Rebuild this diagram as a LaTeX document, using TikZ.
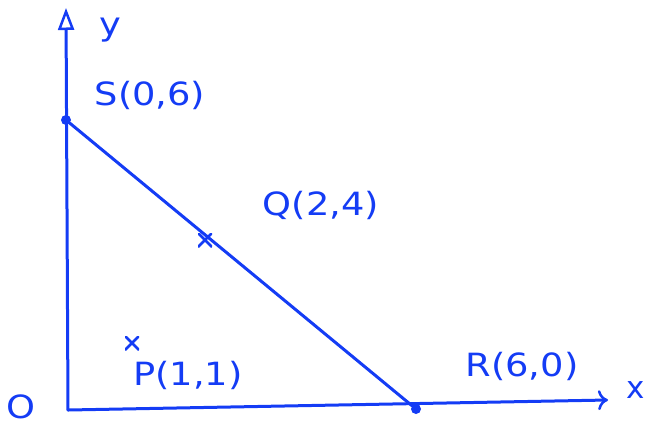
\documentclass[tikz,border=0pt]{standalone}
\usepackage{fontspec}
\setmainfont{DejaVu Sans}
\usetikzlibrary{arrows.meta}
\definecolor{ink}{RGB}{20,60,245}
\newcommand\handtxt[1]{\scalebox{1.15}[1]{#1}}
\begin{document}
\begin{tikzpicture}[x=1pt,y=-1pt,
  pen/.style={draw=ink,line width=3pt,line cap=round,line join=round},
  lbl/.style={text=ink,font=\fontsize{32}{36}\selectfont,inner sep=0pt,anchor=center},
  dotpt/.style={circle,fill=ink,inner sep=0pt,minimum size=10pt},
  crosspt/.style={inner sep=0pt,minimum size=14pt,path picture={
    \draw[ink,line width=2.6pt] (path picture bounding box.south west)--(path picture bounding box.north east)
    (path picture bounding box.north west)--(path picture bounding box.south east);}}]
\useasboundingbox (0,0) rectangle (652,426);
% axes
\coordinate (O) at (68,410);
\coordinate (ytop) at (66,8);
\coordinate (xend) at (608,400);
\draw[pen,-{Triangle[open,length=22pt,width=16pt,line width=2.5pt]}] (O) -- (ytop);
\draw[pen,-{To[length=10pt,width=20pt,line width=2.5pt]}] (O) -- (xend);
\node[lbl] (olbl) at (21,407) {\handtxt{O}};
\node[lbl] (ylbl) at (110,30) {\handtxt{y}};
\node[lbl,font=\fontsize{31}{34}\selectfont] (xlbl) at (636,390) {x};
% points
\node[dotpt] (S) at (66,120) {};
\node[dotpt] (R) at (416,409) {};
\node[crosspt] (Q) at (205,240) {};
\node[crosspt] (P) at (132,343) {};
\draw[pen] (S) -- (R);
% labels
\node[lbl] (Slbl) at (150,95) {\handtxt{S(0,6)}};
\node[lbl] (Qlbl) at (321,205) {\handtxt{Q(2,4)}};
\node[lbl] (Rlbl) at (522,366) {\handtxt{R(6,0)}};
\node[lbl] (Plbl) at (188,375) {\handtxt{P(1,1)}};
\end{tikzpicture}
\end{document}
